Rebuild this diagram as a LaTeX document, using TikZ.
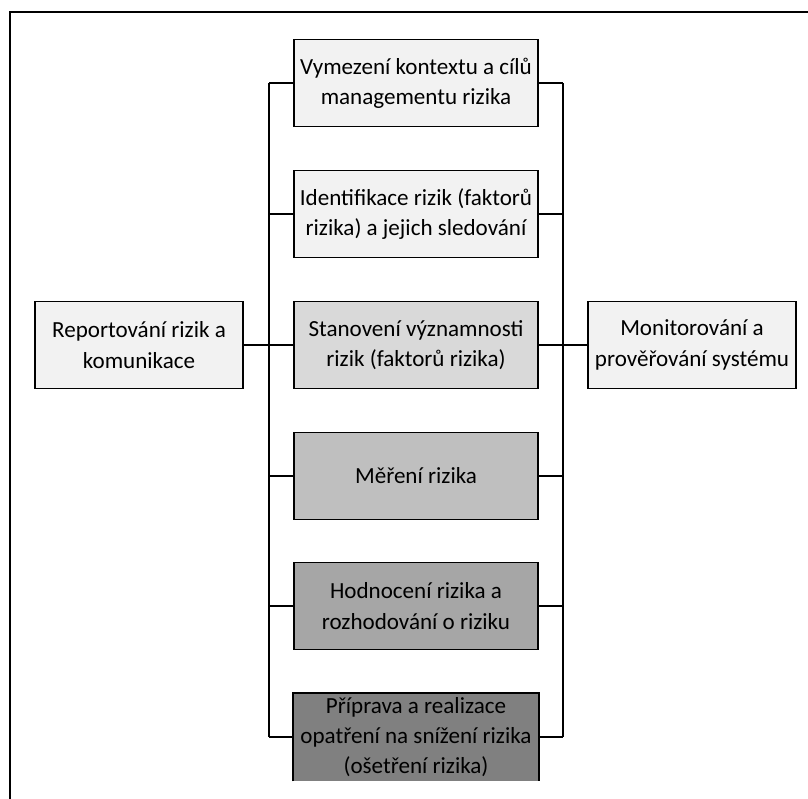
\documentclass[tikz,border=0pt]{standalone}
\usepackage{fontspec}
\setmainfont{Carlito}
\usepackage{tikz}
\usetikzlibrary{positioning, calc}

\definecolor{shadeA}{HTML}{F2F2F2}
\definecolor{shadeB}{HTML}{D9D9D9}
\definecolor{shadeC}{HTML}{BFBFBF}
\definecolor{shadeD}{HTML}{A6A6A6}
\definecolor{shadeE}{HTML}{808080}

\begin{document}
\begin{tikzpicture}[
  x=0.025cm, y=-0.025cm,
  every node/.style={font=\fontsize{16.4}{21.5}\selectfont, align=center, inner sep=0pt},
  stage/.style={rectangle, draw, line width=1.3pt, minimum width=244*0.025cm, minimum height=87*0.025cm},
  side/.style={rectangle, draw, line width=1.3pt, fill=shadeA, minimum width=208*0.025cm, minimum height=87*0.025cm},
  link/.style={line width=1pt},
]
  \useasboundingbox (0,0) rectangle (808,798);
  \clip (0,0) rectangle (808,798);
  \draw[line width=1.2pt] (10,830) -- (10,12) -- (830,12);

  \node[stage,fill=shadeA] (s1) at (416,83) {Vymezení kontextu a cílů\\managementu rizika};
  \node[stage,fill=shadeA] (s2) at (416,214) {Identifikace rizik (faktorů\\rizika) a jejich sledování};
  \node[stage,fill=shadeB] (s3) at (416,345) {Stanovení významnosti\\rizik (faktorů rizika)};
  \node[stage,fill=shadeC] (s4) at (416,476) {Měření rizika};
  \node[stage,fill=shadeD] (s5) at (416,606) {Hodnocení rizika a\\rozhodování o riziku};
  \node[stage,draw=none,fill=shadeE] (s6) at (416,737) {Příprava a realizace\\opatření na snížení rizika\\(ošetření rizika)};
  \draw[line width=1.3pt] (s6.south west) |- (s6.north east) -- (s6.south east);

  \node[side] (rep) at (139,345) {Reportování rizik a\\komunikace};
  \node[side] (mon) at (692,345) {Monitorování a\\prověřování systému};

  \coordinate (busL) at (269,0);
  \coordinate (busR) at (563,0);

  \draw[link] (s1.west -| busL) -- (s6.west -| busL);
  \draw[link] (s1.east -| busR) -- (s6.east -| busR);
  \foreach \s in {s1,s2,s3,s4,s5,s6} {
    \draw[link] (\s.west) -- (\s.west -| busL);
    \draw[link] (\s.east) -- (\s.east -| busR);
  }
  \draw[link] (rep.east) -- (s3.west);
  \draw[link] (s3.east) -- (mon.west);
\end{tikzpicture}
\end{document}
